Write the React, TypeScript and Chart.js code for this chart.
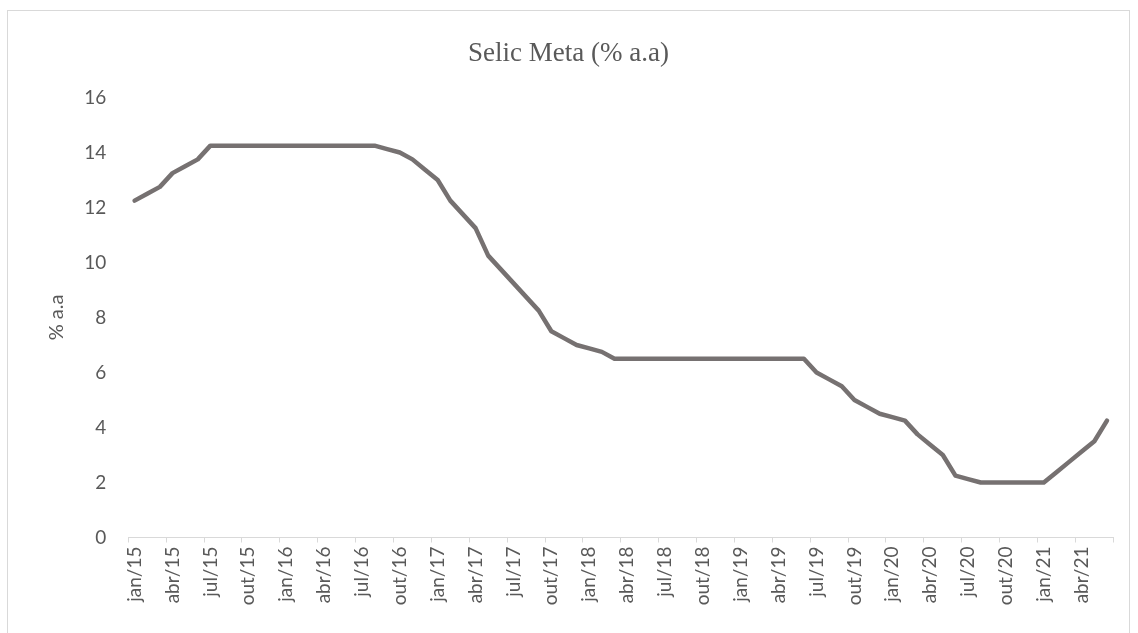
import React, { useEffect, useRef } from "react";
import { Chart, registerables } from "chart.js";

Chart.register(...registerables);

const MONTHS = ["jan", "fev", "mar", "abr", "mai", "jun", "jul", "ago", "set", "out", "nov", "dez"];
const YEARS = ["15", "16", "17", "18", "19", "20", "21"];
const LAST_YEAR_MONTHS = 6; // jan/21 .. jun/21

const categories: string[] = [];
YEARS.forEach((y, yi) => {
  const n = yi === YEARS.length - 1 ? LAST_YEAR_MONTHS : 12;
  for (let m = 0; m < n; m++) categories.push(`${MONTHS[m]}/${y}`);
});

// Selic Meta (% a.a), monthly, jan/15 .. jun/21
const selic2015 = [12.25, 12.5, 12.75, 13.25, 13.5, 13.75, 14.25, 14.25, 14.25, 14.25, 14.25, 14.25];
const selic2016 = [14.25, 14.25, 14.25, 14.25, 14.25, 14.25, 14.25, 14.25, 14.125, 14.0, 13.75, 13.375];
const selic2017 = [13.0, 12.25, 11.75, 11.25, 10.25, 9.75, 9.25, 8.75, 8.25, 7.5, 7.25, 7.0];
const selic2018 = [6.875, 6.75, 6.5, 6.5, 6.5, 6.5, 6.5, 6.5, 6.5, 6.5, 6.5, 6.5];
const selic2019 = [6.5, 6.5, 6.5, 6.5, 6.5, 6.5, 6.0, 5.75, 5.5, 5.0, 4.75, 4.5];
const selic2020 = [4.375, 4.25, 3.75, 3.375, 3.0, 2.25, 2.125, 2.0, 2.0, 2.0, 2.0, 2.0];
const selic2021 = [2.0, 2.375, 2.75, 3.125, 3.5, 4.25];
const selicMeta = [...selic2015, ...selic2016, ...selic2017, ...selic2018, ...selic2019, ...selic2020, ...selic2021];

const TITLE = "Selic Meta (% a.a)";
const Y_TITLE = "% a.a";
const Y_MIN = 0;
const Y_MAX = 16;
const Y_STEP = 2;
const LABEL_EVERY = 3;

const GRAY_TEXT = "#595959";
const AXIS_GRAY = "#d9d9d9";
const LINE_GRAY = "#767171";

export default function App() {
  const ref = useRef<HTMLCanvasElement | null>(null);

  useEffect(() => {
    if (!ref.current) return;
    const chart = new Chart(ref.current, {
      type: "line",
      data: {
        labels: categories,
        datasets: [
          {
            label: TITLE,
            data: selicMeta,
            borderColor: LINE_GRAY,
            backgroundColor: LINE_GRAY,
            borderWidth: 4.5,
            pointRadius: 0,
            pointHoverRadius: 0,
            tension: 0,
            fill: false,
            borderJoinStyle: "round",
            borderCapStyle: "round",
          },
        ],
      },
      options: {
        animation: false,
        responsive: false,
        layout: { padding: { left: 23.7, right: 24.7, top: 0, bottom: 0 } },
        plugins: {
          legend: { display: false },
          tooltip: { enabled: false },
          title: {
            display: true,
            text: TITLE,
            color: GRAY_TEXT,
            font: { family: "'Liberation Serif', 'Times New Roman', serif", size: 27, weight: "normal", lineHeight: 1.2 },
            padding: { top: 37.8, bottom: 27.3 },
          },
        },
        scales: {
          x: {
            type: "category",
            offset: true,
            afterFit: (scale: any) => {
              scale.height = 95.5;
            },
            grid: {
              display: true,
              drawOnChartArea: false,
              drawTicks: true,
              tickLength: 5,
              offset: true,
              color: AXIS_GRAY,
              tickColor: (ctx: any) =>
                ctx.index === undefined || ctx.index % LABEL_EVERY === 0 ? AXIS_GRAY : "rgba(0,0,0,0)",
              tickWidth: 1,
            },
            border: { display: true, color: AXIS_GRAY, width: 1 },
            ticks: {
              autoSkip: false,
              maxRotation: 90,
              minRotation: 90,
              padding: 4,
              color: GRAY_TEXT,
              font: { family: "Lato, 'Noto Sans', sans-serif", size: 19 },
              callback: (_v: any, i: number) => (i % LABEL_EVERY === 0 ? categories[i] : ""),
            },
          },
          y: {
            min: Y_MIN,
            max: Y_MAX,
            afterFit: (scale: any) => {
              scale.width = 104.6;
            },
            grid: { display: false, drawTicks: false },
            border: { display: false },
            ticks: {
              stepSize: Y_STEP,
              padding: 22,
              color: GRAY_TEXT,
              font: { family: "Lato, 'Noto Sans', sans-serif", size: 19 },
            },
            title: {
              display: true,
              text: Y_TITLE,
              color: GRAY_TEXT,
              font: { family: "Lato, 'Noto Sans', sans-serif", size: 20, lineHeight: 1.2 },
              padding: { top: 21.3, bottom: 0 },
            },
          },
        },
      },
    });
    return () => chart.destroy();
  }, []);

  return (
    <div style={{ position: "fixed", left: 0, top: 0, width: 1138, height: 633, background: "#fff", overflow: "hidden" }}>
      <canvas ref={ref} width={1138} height={633} style={{ position: "absolute", left: 0, top: 0, width: 1138, height: 633 }} />
      <div
        style={{
          position: "absolute",
          left: 7,
          top: 10,
          width: 1123,
          height: 630,
          borderTop: `1px solid ${AXIS_GRAY}`,
          borderLeft: `1px solid ${AXIS_GRAY}`,
          borderRight: `1px solid ${AXIS_GRAY}`,
          pointerEvents: "none",
          boxSizing: "border-box",
        }}
      />
    </div>
  );
}
